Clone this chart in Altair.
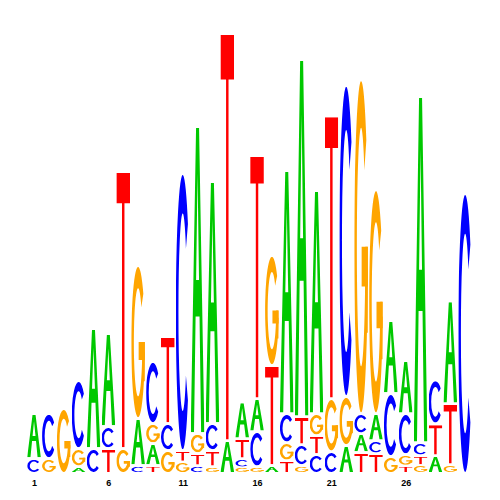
import base64
import altair as alt
import pandas as pd

# ---- data (information content in bits) ----
positions = list(range(1, 31))
# stacking order of letters in each column, bottom -> top
orders = ["CA", "GC", "G", "AGC", "CA", "TCA", "GT", "CAG", "TAGC", "GCT",
          "GTC", "CTGA", "GTCA", "AT", "GCTA", "GCAT", "ATG", "TGCA", "GCTA", "CTGA",
          "CGT", "AGC", "TACG", "TCAG", "GCA", "TGCA", "GTCA", "ATC", "GTA", "C"]
height_A = [0.205, 0, 0, 0.018, 0.545, 0.423, 0, 0.214, 0.100, 0,
            0, 1.395, 1.100, 0.136, 0.168, 0.150, 0.023, 1.105, 1.623, 1.014,
            0, 0.114, 0.086, 0.123, 0.332, 0.241, 1.573, 0.068, 0.468, 0]
height_C = [0.055, 0.205, 0, 0.309, 0.100, 0.100, 0, 0.023, 0.282, 0.123,
            1.259, 0.023, 0.123, 0, 0.036, 0.159, 0, 0.132, 0.095, 0.073,
            0.086, 1.414, 0.091, 0.059, 0.286, 0.186, 0.059, 0.200, 0, 1.259]
height_G = [0, 0.055, 0.282, 0.082, 0, 0, 0.100, 0.695, 0.091, 0.091,
            0.041, 0.091, 0.018, 0, 0.018, 0.018, 0.500, 0.082, 0.023, 0.100,
            0.241, 0.223, 1.518, 1.018, 0.064, 0.050, 0.027, 0, 0.027, 0]
height_T = [0, 0, 0, 0, 0, 0.100, 1.259, 0, 0.023, 0.395,
            0.050, 0.055, 0.073, 1.850, 0.091, 1.105, 0.455, 0.045, 0.127, 0.086,
            1.286, 0, 0.082, 0.077, 0, 0.023, 0.041, 0.145, 0.277, 0]
tick_values = [1, 6, 11, 16, 21, 26]

# ---- glyph images (stretchable letter shapes) ----
colors = {"A": "#00C800", "C": "#0000FF", "G": "#FFA500", "T": "#FF0000"}
glyph_paths = {
    "A": ["M0,100 L39,0 L61,0 L100,100 L76,100 L64.4,62 L35.6,62 L24,100 Z "
          "M39.3,50 L60.7,50 L50,15 Z"],
    "C": ["M88.3,17.9 A50,50 0 1 0 88.3,82.1 L73.7,73.1 A31,36 0 1 1 73.7,26.9 Z"],
    "G": ["M88.3,17.9 A50,50 0 1 0 99.5,57 L80.7,55 A31,36 0 1 1 73.7,26.9 Z",
          "M54,50 L100,50 L100,62 L54,62 Z",
          "M81,50 L99,50 L99,76 L81,76 Z"],
    "T": ["M0,0 L100,0 L100,11 L59,11 L59,100 L41,100 L41,11 L0,11 Z"],
}


def glyph_url(letter):
    body = "".join(
        f'<path d="{d}" fill="{colors[letter]}" fill-rule="evenodd"/>'
        for d in glyph_paths[letter])
    svg = ('<svg xmlns="http://www.w3.org/2000/svg" width="100" height="100" '
           'viewBox="0 0 100 100" preserveAspectRatio="none">' + body + '</svg>')
    return "data:image/svg+xml;base64," + base64.b64encode(svg.encode()).decode()


urls = {k: glyph_url(k) for k in "ACGT"}
heights = {"A": height_A, "C": height_C, "G": height_G, "T": height_T}

rows = []
for i, pos in enumerate(positions):
    base = 0.0
    for letter in orders[i]:
        h = heights[letter][i]
        rows.append({"pos": pos, "letter": letter, "y0": base, "y1": base + h,
                     "url": urls[letter]})
        base += h
df = pd.DataFrame(rows)

chart = alt.Chart(df).transform_calculate(
    x0="datum.pos - 0.46", x1="datum.pos + 0.46",
    ybot="datum.y0 > 0 ? datum.y0 + min(0.012, (datum.y1 - datum.y0) * 0.2) : datum.y0"
).mark_image(aspect=False).encode(
    x=alt.X("x0:Q", scale=alt.Scale(domain=[0.5, 30.5], nice=False, zero=False),
            axis=alt.Axis(values=tick_values, ticks=False, domain=False, grid=False,
                          labelFontSize=9, labelFontWeight="bold", labelColor="black",
                          labelFont="Liberation Sans", labelPadding=7, title=None,
                          labelFlush=False)),
    x2="x1:Q",
    y=alt.Y("ybot:Q", scale=alt.Scale(domain=[0, 2], nice=False), axis=None),
    y2="y1:Q",
    url=alt.Url("url:N"),
).properties(
    width=446, height=440,
    autosize=alt.AutoSizeParams(type="none"),
    padding={"left": 18.6, "top": 24, "right": 10, "bottom": 20},
).configure_view(stroke=None)

chart.save("out.html", embed_options={"renderer": "svg", "actions": False})
